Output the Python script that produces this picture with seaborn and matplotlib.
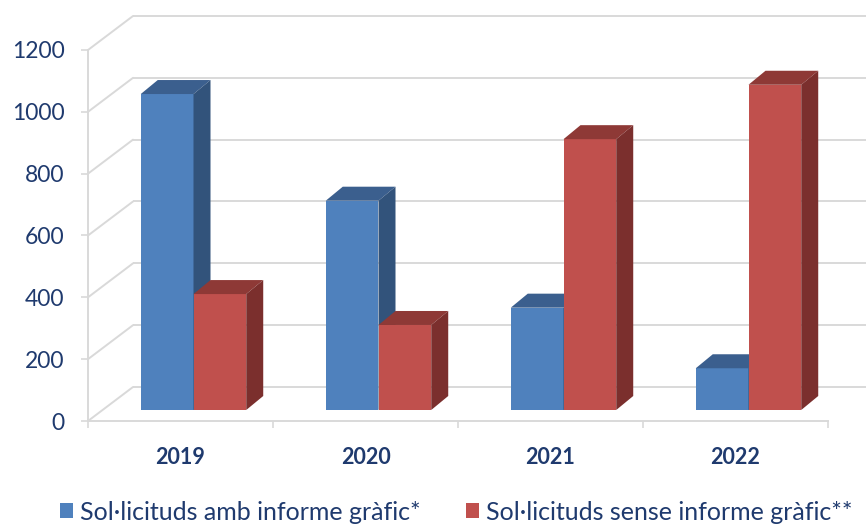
import numpy as np
import pandas as pd
import matplotlib
matplotlib.use("Agg")
import matplotlib.pyplot as plt
import seaborn as sns
from matplotlib.transforms import offset_copy, IdentityTransform
from matplotlib.patches import Polygon, Patch
from matplotlib.lines import Line2D

# ---- data ----
years = ["2019", "2020", "2021", "2022"]
amb_informe = [1022, 677, 331, 135]
sense_informe = [375, 275, 876, 1052]
series_names = ["Sol·licituds amb informe gràfic*", "Sol·licituds sense informe gràfic**"]
y_ticks = [0, 200, 400, 600, 800, 1000, 1200]

# ---- style ----
front_colors = ["#4f81bd", "#c0504d"]
top_colors = ["#3b5f8e", "#8e3936"]
side_colors = ["#32537b", "#7b2f2d"]
text_color = "#1f3a6e"
grid_color = "#d9d9d9"

df = pd.DataFrame({
    "year": years * 2,
    "value": amb_informe + sense_informe,
    "series": [series_names[0]] * len(years) + [series_names[1]] * len(years),
})

sns.set_theme(style="white")
plt.rcParams["font.family"] = ["Lato", "DejaVu Sans"]

W, H, DPI = 866, 527, 100
fig = plt.figure(figsize=(W / DPI, H / DPI), dpi=DPI, facecolor="white")
ax = fig.add_axes([88 / W, (H - 421) / H, (828 - 88) / W, (421 - 50) / H])
ax.set_facecolor("none")

sns.barplot(data=df, x="year", y="value", hue="series", hue_order=series_names,
            palette=front_colors, width=0.57, saturation=1, legend=False, ax=ax)
ax.set_xlim(-0.5, len(years) - 0.5)
ax.set_ylim(0, 1200)

# pixel offsets for the pseudo-3D depth
BAR_PLANE = (13, 11)     # bars sit a little behind the front floor edge
WALL = (45, 34)          # back wall
DEPTH = (17, 14)         # thickness of each column

bar_trans = offset_copy(ax.transData, fig=fig, x=BAR_PLANE[0], y=BAR_PLANE[1], units="dots")
wall_trans = offset_copy(ax.transData, fig=fig, x=WALL[0], y=WALL[1], units="dots")

# back wall gridlines and the diagonals joining them to the front axis
for v in y_ticks:
    ax.plot([-0.5, len(years) + 0.2], [v, v], transform=wall_trans, clip_on=False,
            color=grid_color, lw=1.4, zorder=1, solid_capstyle="butt")
    px, py = ax.transData.transform((-0.5, v))
    ax.add_line(Line2D([px, px + WALL[0]], [py, py + WALL[1]], transform=IdentityTransform(),
                       color=grid_color, lw=1.4, clip_on=False, zorder=1))

# columns: front face from seaborn, top and side faces built from each bar's geometry
dx, dy = DEPTH
for i, cont in enumerate(ax.containers):
    base_z = 3 + i
    for bar in cont:
        bar.set_transform(bar_trans)
        bar.set_clip_on(False)
        bar.set_zorder(base_z)
        bar.set_edgecolor("none")
        x0, w, h = bar.get_x(), bar.get_width(), bar.get_height()
        (X0, Y0) = bar_trans.transform((x0, 0))
        (X1, Y1) = bar_trans.transform((x0 + w, h))
        top = Polygon([(X0, Y1), (X1, Y1), (X1 + dx, Y1 + dy), (X0 + dx, Y1 + dy)],
                      closed=True, transform=IdentityTransform(), facecolor=top_colors[i],
                      edgecolor="none", clip_on=False, zorder=base_z + 0.5)
        side = Polygon([(X1, Y0), (X1, Y1), (X1 + dx, Y1 + dy), (X1 + dx, Y0 + dy)],
                       closed=True, transform=IdentityTransform(), facecolor=side_colors[i],
                       edgecolor="none", clip_on=False, zorder=base_z + 0.5)
        ax.add_patch(top)
        ax.add_patch(side)

# front axes frame
for s in ["top", "right"]:
    ax.spines[s].set_visible(False)
for s in ["left", "bottom"]:
    ax.spines[s].set_color(grid_color)
    ax.spines[s].set_linewidth(1.4)
    ax.spines[s].set_zorder(1)

ax.set_yticks(y_ticks)
ax.tick_params(axis="y", length=5, width=1.2, color=grid_color, labelsize=16.5,
               labelcolor=text_color, pad=12, left=True)
ax.set_xticks(range(len(years)))
ax.set_xticks(np.arange(-0.5, len(years)), minor=True)
ax.tick_params(axis="x", which="major", length=0, labelsize=15.5, labelcolor=text_color, pad=19)
ax.tick_params(axis="x", which="minor", length=5, width=1.2, color=grid_color, bottom=True)
for lab in ax.get_xticklabels():
    lab.set_fontweight("bold")
ax.set_xlabel("")
ax.set_ylabel("")
ax.grid(False)

handles = [Patch(facecolor=c, edgecolor="none", label=n) for c, n in zip(front_colors, series_names)]
fig.legend(handles=handles, loc="center", bbox_to_anchor=(456 / W, 1 - 512 / H), ncol=2,
           frameon=False, fontsize=18, handlelength=0.52, handleheight=0.52,
           handletextpad=0.28, columnspacing=1.8, labelcolor=text_color,
           borderpad=0.1)

fig.savefig("out.png", dpi=DPI, facecolor="white")
